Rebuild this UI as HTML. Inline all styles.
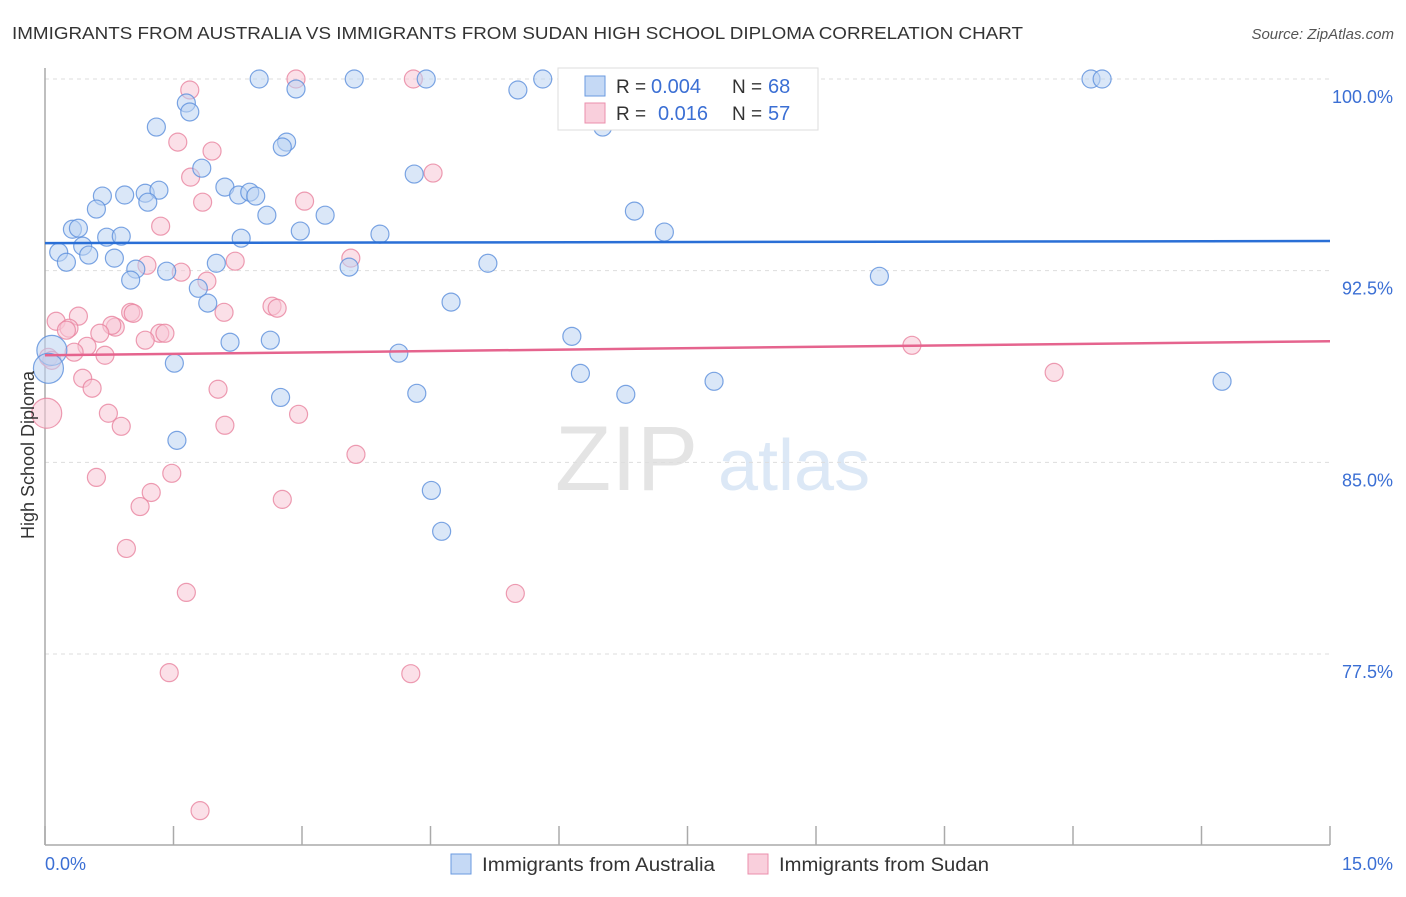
<!DOCTYPE html>
<html><head><meta charset="utf-8"><style>
body{margin:0;background:#fff;font-family:"Liberation Sans",sans-serif}
svg text{font-family:"Liberation Sans",sans-serif}
</style></head><body>
<svg id="c" width="1406" height="892" xmlns="http://www.w3.org/2000/svg">
<text x="12" y="39" font-size="17.5" fill="#333" textLength="1011" lengthAdjust="spacingAndGlyphs">IMMIGRANTS FROM AUSTRALIA VS IMMIGRANTS FROM SUDAN HIGH SCHOOL DIPLOMA CORRELATION CHART</text>
<text x="1394" y="39" font-size="15" fill="#555" font-style="italic" text-anchor="end">Source: ZipAtlas.com</text>
<text x="555" y="490" font-size="92" fill="#e4e4e4" font-family="Liberation Serif">ZIP</text>
<text x="718" y="490" font-size="72" fill="#dce8f6">atlas</text>
<g id="grid"></g><g id="axes"></g><g id="pts"></g><g id="trend"></g>
<text transform="translate(34,455) rotate(-90)" font-size="18" fill="#333" text-anchor="middle">High School Diploma</text>
<g>
<rect x="558" y="68" width="260" height="62" fill="#fff" stroke="#ddd"/>
<rect x="585" y="76" width="20" height="20" fill="#c5d9f5" stroke="#6a9ae0"/>
<rect x="585" y="103" width="20" height="20" fill="#f9cfdc" stroke="#eb8fac"/>
<text x="616" y="93" font-size="19" fill="#333">R = </text><text x="651" y="93" font-size="20" fill="#3b6fd4">0.004</text>
<text x="732" y="93" font-size="19" fill="#333">N = </text><text x="768" y="93" font-size="20" fill="#3b6fd4">68</text>
<text x="616" y="120" font-size="19" fill="#333">R = </text><text x="658" y="120" font-size="20" fill="#3b6fd4">0.016</text>
<text x="732" y="120" font-size="19" fill="#333">N = </text><text x="768" y="120" font-size="20" fill="#3b6fd4">57</text>
</g>
<g>
<rect x="451" y="854" width="20" height="20" fill="#c5d9f5" stroke="#6a9ae0"/>
<text x="482" y="871" font-size="19" fill="#333" textLength="233" lengthAdjust="spacingAndGlyphs">Immigrants from Australia</text>
<rect x="748" y="854" width="20" height="20" fill="#f9cfdc" stroke="#eb8fac"/>
<text x="779" y="871" font-size="19" fill="#333" textLength="210" lengthAdjust="spacingAndGlyphs">Immigrants from Sudan</text>
</g>
</svg>
<script>
const yTicks=[100,92.5,85,77.5];
const yTickLabels=["100.0%","92.5%","85.0%","77.5%"];
const xTickVals=[0,1.5,3,4.5,6,7.5,9,10.5,12,13.5,15];
const auX=[2.50,3.61,4.45,5.81,12.21,12.34,2.93,5.52,1.65,1.69,1.30,6.51,2.82,2.77,1.83,4.31,2.10,0.67,0.93,1.17,1.33,1.20,2.26,2.39,2.46,0.60,2.59,3.27,6.88,0.32,0.39,2.98,0.72,0.89,2.29,3.91,7.23,0.44,0.16,0.51,0.25,0.81,1.06,1.42,2.00,3.55,5.17,9.74,1.00,1.79,1.90,4.74,6.15,2.16,2.63,4.13,1.51,6.25,7.81,13.74,4.34,6.78,2.75,1.54,4.51,4.63,0.08,0.04];
const auY=[100,100,100,100,100,100,99.61,99.57,99.06,98.71,98.12,98.12,97.53,97.34,96.51,96.28,95.77,95.42,95.46,95.53,95.65,95.18,95.46,95.57,95.42,94.91,94.67,94.67,94.83,94.12,94.16,94.05,93.81,93.85,93.77,93.93,94.01,93.46,93.22,93.11,92.83,92.99,92.56,92.48,92.79,92.64,92.79,92.28,92.13,91.81,91.23,91.27,89.93,89.70,89.78,89.27,88.88,88.48,88.17,88.17,87.70,87.66,87.54,85.86,83.90,82.30,89.38,88.68];
const auBig=[66,67];
const suX=[1.69,2.93,4.30,1.55,1.95,4.53,1.70,1.84,3.03,1.35,1.19,2.22,1.59,3.57,1.89,2.09,1.00,0.13,0.39,0.28,0.25,1.03,0.82,0.78,0.64,1.34,1.40,1.17,0.49,0.34,0.70,0.04,0.08,2.65,2.71,10.12,0.44,0.55,2.02,11.78,0.74,0.89,2.96,2.10,0.02,0.60,3.63,1.48,1.24,1.11,2.77,0.95,1.65,5.49,1.45,4.27,1.81];
const suY=[99.57,100,100,97.53,97.18,96.32,96.16,95.18,95.22,94.24,92.71,92.87,92.44,92.99,92.09,90.87,90.87,90.52,90.72,90.25,90.17,90.83,90.29,90.36,90.05,90.05,90.05,89.78,89.54,89.31,89.19,89.11,88.99,91.11,91.03,89.58,88.29,87.90,87.86,88.52,86.92,86.41,86.88,86.45,86.92,84.41,85.31,84.57,83.82,83.27,83.55,81.63,79.91,79.87,76.77,76.73,71.37];
const suBig=[44];
const auTrend=[93.58,93.66];
const suTrend=[89.19,89.74];
const NS="http://www.w3.org/2000/svg";
const L=45,R=1330,T=79,B=845;
const xS=v=>L+v/15*(R-L);
const yS=v=>T+(100-v)*(654-79)/22.5;
function mk(t,a,p){const e=document.createElementNS(NS,t);for(const k in a)e.setAttribute(k,a[k]);document.getElementById(p).appendChild(e);return e;}
yTicks.forEach((v,i)=>{
 const g=mk('line',{x1:L,x2:R,y1:yS(v),y2:yS(v),stroke:'#ddd','stroke-dasharray':'4,4'},'grid');
 
 
 const t=mk('text',{x:1393,y:yS(v)+24,'font-size':18,fill:'#3b6fd4','text-anchor':'end'},'axes');
 t.textContent=yTickLabels[i];
 
 
});
const ya=mk('line',{x1:L,x2:L,y1:68,y2:B,stroke:'#aaa','stroke-width':1.5},'axes');


const xa=mk('line',{x1:L,x2:R,y1:B,y2:B,stroke:'#aaa','stroke-width':1.5},'axes');


xTickVals.forEach(v=>{
 const k=mk('line',{x1:xS(v),x2:xS(v),y1:B,y2:826,stroke:'#aaa','stroke-width':1.5},'axes');
 
 
});
[[0,"0.0%","start",45],[15,"15.0%","end",1393]].forEach(a=>{
 const t=mk('text',{x:a[3],y:870,'font-size':18,fill:'#3b6fd4','text-anchor':a[2]},'axes');
 t.textContent=a[1];
 
 
});
function pts(X,Y,big,fill,stroke,name){
 X.forEach((x,i)=>{
  const c=mk('circle',{cx:xS(x),cy:yS(Y[i]),r:big.includes(i)?15:9,fill:fill,'fill-opacity':0.55,stroke:stroke,'stroke-width':1.2,'stroke-opacity':0.8},'pts');
  
  
 });
}
pts(suX,suY,suBig,'#f8c6d6','#e8839f','sudan-point');
pts(auX,auY,auBig,'#bcd3f3','#5b8fdc','australia-point');
const t1=mk('line',{x1:L,x2:R,y1:yS(auTrend[0]),y2:yS(auTrend[1]),stroke:'#2a6fd6','stroke-width':2.5},'trend');


const t2=mk('line',{x1:L,x2:R,y1:yS(suTrend[0]),y2:yS(suTrend[1]),stroke:'#e5648e','stroke-width':2.5},'trend');


</script>
</body></html>
